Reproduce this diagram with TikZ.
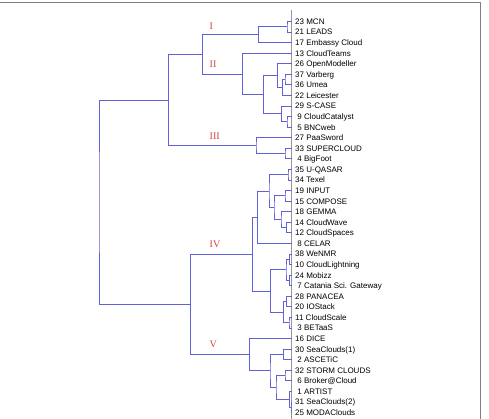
\documentclass[tikz,border=0pt]{standalone}
\usepackage{fontspec}
\setmainfont{Liberation Sans}
\newfontfamily\grpfont{Liberation Serif}
\usetikzlibrary{calc}
\definecolor{treeblue}{RGB}{98,98,216}
\definecolor{labred}{RGB}{214,62,62}
\definecolor{framegray}{RGB}{128,128,128}
\definecolor{axisgray}{RGB}{150,150,150}
\newcommand\pd{\hspace*{0.278em}}
\newcommand\dmerge[4]{%
  \path let \p1=(#3), \p2=(#4) in (#2pt,{0.5*\y1+0.5*\y2}) coordinate (#1);
  \draw[tree] (#3) -| (#1) |- (#4);}
\begin{document}
\begin{tikzpicture}[x=1pt,y=-1pt,
  tree/.style={draw=treeblue,line width=1pt},
  leaf/.style={anchor=west,inner sep=0pt,font=\fontsize{8}{9}\selectfont,text height=5.8pt,text depth=0pt},
  grp/.style={anchor=west,inner sep=0pt,text=labred,font=\grpfont\fontsize{10}{12}\selectfont}]
\useasboundingbox (0,0) rectangle (489,419);
\draw[framegray,line width=1pt] (0,3) -- (480,3) -- (480,419);
\coordinate (axtop) at (291.5,10);
\coordinate (axbot) at (291.5,419);
\draw[axisgray,line width=0.8pt] (axtop) -- (axbot);
\foreach \lab [count=\i from 0] in {23 MCN,21 LEADS,17 Embassy Cloud,13 CloudTeams,26 OpenModeller,37 Varberg,36 Umea,22 Leicester,29 S-CASE,\pd9 CloudCatalyst,\pd5 BNCweb,27 PaaSword,33 SUPERCLOUD,\pd4 BigFoot,35 U-QASAR,34 Texel,19 INPUT,15 COMPOSE,18 GEMMA,14 CloudWave,12 CloudSpaces,\pd8 CELAR,38 WeNMR,10 CloudLightning,24 Mobizz,\pd7 Catania Sci. Gateway,28 PANACEA,20 IOStack,11 CloudScale,\pd3 BETaaS,16 DICE,30 SeaClouds(1),\pd2 ASCETiC,32 STORM CLOUDS,\pd6 Broker@Cloud,\pd1 ARTIST,31 SeaClouds(2),25 MODAClouds}{
  \coordinate (L\i) at (291.5,{21.5+10.57*\i});
  \node[leaf] (T\i) at (295,{21.5+10.57*\i}) {\lab};
}
% cluster I
\dmerge{a}{287}{L0}{L1}
\dmerge{cI}{258.3}{a}{L2}
% cluster II
\dmerge{b}{285}{L5}{L6}
\dmerge{c}{282.7}{b}{L7}
\dmerge{d}{277.3}{L4}{c}
\dmerge{e}{287}{L9}{L10}
\dmerge{f}{281.7}{L8}{e}
\dmerge{g}{263.3}{d}{f}
\dmerge{cII}{242.3}{L3}{g}
\dmerge{cIII0}{202.7}{cI}{cII}
% cluster III
\dmerge{h}{285}{L12}{L13}
\dmerge{cIII}{256}{L11}{h}
\dmerge{upper}{168.3}{cIII0}{cIII}
% cluster IV
\dmerge{i1}{288}{L14}{L15}
\dmerge{j}{285}{L16}{L17}
\dmerge{k}{286.7}{L19}{L20}
\dmerge{l}{281}{L18}{k}
\dmerge{m}{274}{j}{l}
\dmerge{n}{269}{i1}{m}
\dmerge{o}{257.7}{n}{L21}
\dmerge{p}{289.3}{L22}{L23}
\dmerge{q}{289.3}{L24}{L25}
\dmerge{r}{286}{p}{q}
\dmerge{s}{286.7}{L26}{L27}
\dmerge{t}{289}{L28}{L29}
\dmerge{u}{283.3}{s}{t}
\dmerge{v}{270.7}{r}{u}
\dmerge{cIV}{252.5}{o}{v}
% cluster V
\dmerge{w}{283.3}{L31}{L32}
\dmerge{x1}{285}{L33}{L34}
\dmerge{y1}{291}{L36}{L37}
\dmerge{z}{289.3}{L35}{y1}
\dmerge{aa}{276}{x1}{z}
\dmerge{bb}{270}{w}{aa}
\dmerge{cV}{249.5}{L30}{bb}
\dmerge{lower}{190.7}{cIV}{cV}
\dmerge{root}{99}{upper}{lower}
% group labels
\node[grp] (gI) at (209.5,26) {I};
\node[grp] (gII) at (209.5,64) {II};
\node[grp] (gIII) at (209.5,136) {III};
\node[grp] (gIV) at (209.5,244.5) {IV};
\node[grp] (gV) at (209.5,344.7) {V};
\end{tikzpicture}
\end{document}
